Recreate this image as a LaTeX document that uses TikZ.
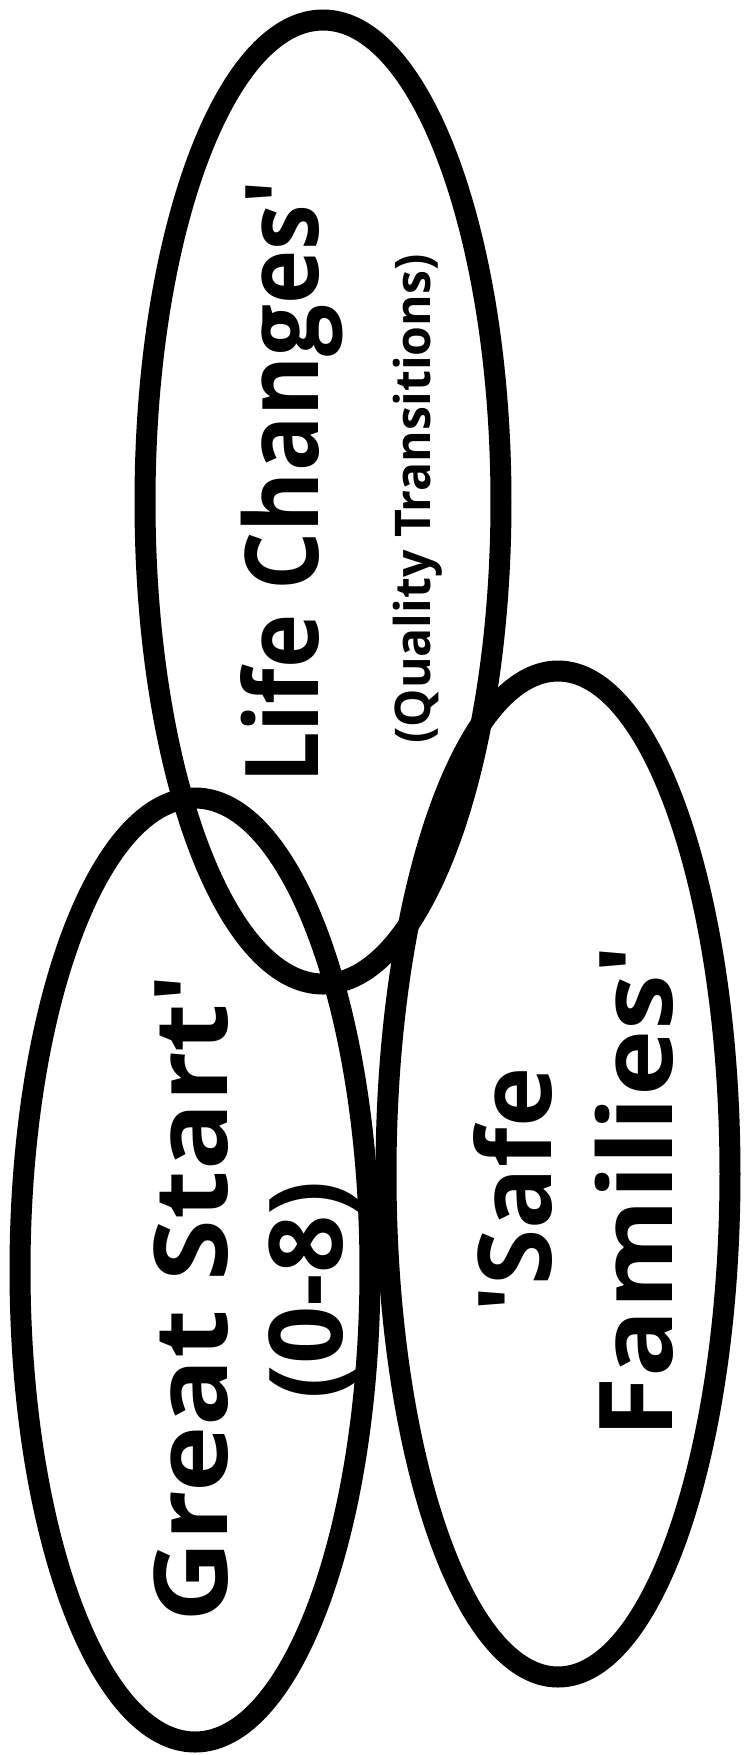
\documentclass[tikz,border=0pt]{standalone}
\usepackage{fontspec}
\setmainfont{Open Sans}
\usepackage{tikz}
\usetikzlibrary{
  shapes.geometric,
  positioning
}
\definecolor{ringblack}{RGB}{0, 0, 0}
\definecolor{inkblack}{RGB}{0, 0, 0}
\tikzset{
  ring/.style 2 args = {
    ellipse, draw=ringblack, line width=2.1mm,
    minimum width=#1, minimum height=#2, inner sep=0pt
  },
  bigtxt/.style = {
    rotate=90, anchor=base, inner sep=0pt, text=inkblack,
    font=\fontsize{29}{34}\selectfont\bfseries, xscale=#1
  },
  bigtxt/.default = 1,
  smalltxt/.style = {
    rotate=90, anchor=base, inner sep=0pt, text=inkblack,
    font=\fontsize{14}{17}\selectfont\bfseries, xscale=#1
  },
  smalltxt/.default = 1,
}

\begin{document}
\begin{tikzpicture}[x=0.1mm, y=-0.1mm]

  \useasboundingbox (0,0) rectangle (744,1755);

  %% rings
  \node[ring={35.6mm}{96.4mm}] (lifering)  at (323,502)  {};
  \node[ring={35.0mm}{94.4mm}] (greatring) at (195,1270) {};
  \node[ring={34.4mm}{100.6mm}] (safering) at (558,1174) {};

  %% Life Changes
  \node[bigtxt=0.90]   (lifetitle) at (318,482) {Life Changes\textquotesingle};
  \node[smalltxt=0.98] (lifesub)   at (430,499) {(Quality Transitions)};

  %% Great Start
  \node[bigtxt=1.10] (greattitle) at (228,1298) {Great Start\textquotesingle};
  \node[bigtxt]      (greatage)   at (342,1290) {(0-8)};

  %% Safe Families
  \node[bigtxt]      (safetop)    at (551,1190) {\textquotesingle Safe};
  \node[bigtxt=1.10] (safebottom) at (672,1192) {Families\textquotesingle};

\end{tikzpicture}
\end{document}
